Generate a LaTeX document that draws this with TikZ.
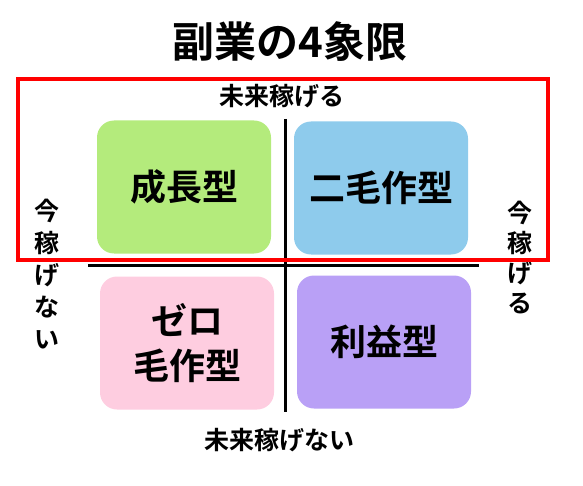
\documentclass[tikz,border=0pt]{standalone}
\usepackage{fontspec}
\newfontfamily\jp{Noto Sans CJK JP}[BoldFont={Noto Sans CJK JP Bold}]
\usepackage{tikz}
\definecolor{growthgreen}{RGB}{180,235,124}
\definecolor{doubleblue}{RGB}{142,203,236}
\definecolor{zeropink}{RGB}{254,205,224}
\definecolor{profitpurple}{RGB}{185,160,246}

\begin{document}
\begin{tikzpicture}[x=1pt,y=-1pt]
    \tikzset{quad/.style = {shape=rectangle,rounded corners=17pt,minimum width=174pt,minimum height=133pt,inner sep=0pt,align=center,font=\jp\bfseries\fontsize{36}{45}\selectfont}}
    \tikzset{axis/.style = {line width=3pt}}
    \tikzset{axislabel/.style = {font=\jp\bfseries\fontsize{25}{30}\selectfont,align=center,inner sep=0pt}}
    \useasboundingbox (0,0) rectangle (583,486);
    % title
    \node[font=\jp\bfseries\fontsize{42}{50}\selectfont] (title) at (290,42) {副業の4象限};
    % quadrants
    \node[quad,fill=growthgreen] (growth) at (184,187) {成長型};
    \node[quad,fill=doubleblue] (double) at (381,188) {二毛作型};
    \node[quad,fill=zeropink] (zero) at (187,343) {ゼロ\\毛作型};
    \node[quad,fill=profitpurple] (profit) at (384,342) {利益型};
    % axes
    \coordinate (top) at (285,119);
    \coordinate (bottom) at (285,412);
    \coordinate (left) at (88,265);
    \coordinate (right) at (479,265);
    \draw[axis] (top) to (bottom);
    \draw[axis] (left) to (right);
    % axis labels
    \node[axislabel] (future) at (282,96) {未来稼げる};
    \node[axislabel] (nofuture) at (279,440) {未来稼げない};
    \node[axislabel,font=\jp\bfseries\fontsize{25}{32}\selectfont] (nonow) at (47,274) {今\\稼\\げ\\な\\い};
    \node[axislabel] (now) at (520,258) {今\\稼\\げ\\る};
    % highlight
    \draw[red,line width=4pt] (18,79) rectangle (548,260);
\end{tikzpicture}
\end{document}
